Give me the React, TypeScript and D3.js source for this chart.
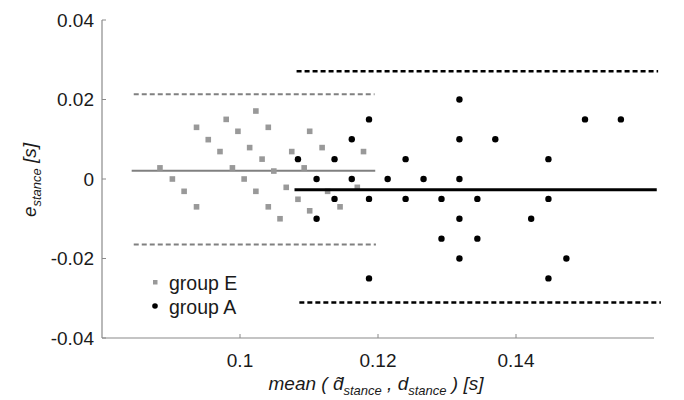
import React from 'react';
import * as d3 from 'd3';

// group E (gray squares)
const groupEX = [0.0884, 0.0902, 0.0919, 0.0937, 0.0937, 0.0954, 0.0971, 0.098, 0.0989, 0.0997, 0.1006, 0.1014, 0.1023, 0.1023, 0.1032, 0.1041, 0.1041, 0.1049, 0.1058, 0.1067, 0.1075, 0.1084, 0.1093, 0.1101, 0.1101, 0.1119, 0.1127, 0.1145, 0.117, 0.1179];
const groupEY = [0.0028, 0, -0.0031, -0.007, 0.013, 0.0099, 0.0069, 0.015, 0.0028, 0.012, 0, 0.0079, 0.0171, -0.0031, 0.005, 0.013, -0.007, 0.002, -0.01, -0.0021, 0.0069, -0.0051, 0.0028, 0.012, -0.008, 0.0079, -0.0031, -0.007, -0.0021, 0.0069];

// group A (black dots)
const groupAX = [0.1084, 0.1111, 0.1111, 0.1137, 0.1137, 0.1162, 0.1162, 0.1187, 0.1187, 0.1187, 0.1214, 0.124, 0.124, 0.1266, 0.1292, 0.1292, 0.1318, 0.1318, 0.1318, 0.1318, 0.1318, 0.1344, 0.1344, 0.137, 0.1422, 0.1447, 0.1447, 0.1447, 0.1473, 0.15, 0.1552];
const groupAY = [0.005, 0, -0.01, 0.005, -0.005, 0.01, 0, 0.015, -0.005, -0.025, 0, 0.005, -0.005, 0, -0.005, -0.015, 0.02, 0.01, 0, -0.01, -0.02, -0.005, -0.015, 0.01, -0.01, 0.005, -0.005, -0.025, -0.02, 0.015, 0.015];

// mean and limits of agreement: [value, xStart, xEnd]
const meanE = [0.0021, 0.0843, 0.1196];
const limitsE = [[0.0213, 0.0846, 0.1195], [-0.0165, 0.0846, 0.1197]];
const meanA = [-0.0027, 0.1079, 0.1604];
const limitsA = [[0.0271, 0.1082, 0.1606], [-0.0311, 0.1086, 0.161]];

const xTicks = [0.1, 0.12, 0.14];
const yTicks = [-0.04, -0.02, 0, 0.02, 0.04];
const xTickLabels = ['0.1', '0.12', '0.14'];
const yTickLabels = ['-0.04', '-0.02', '0', '0.02', '0.04'];

const W = 684;
const H = 400;
const GRAY = '#999999';
const AXIS = '#8a8a8a';
const TEXT = '#1a1a1a';
const FONT = 'Liberation Sans, Arial, sans-serif';

export default function App() {
  const x = d3.scaleLinear().domain([0.08, 0.16]).range([102, 654]);
  const y = d3.scaleLinear().domain([-0.04, 0.04]).range([338, 20]);
  const x0 = x.range()[0];
  const y0 = y.range()[0];

  const hline = (v: number[], stroke: string, width: number, dash?: string, key?: string) => (
    <line key={key} x1={x(v[1])} x2={x(v[2])} y1={y(v[0])} y2={y(v[0])}
      stroke={stroke} strokeWidth={width} strokeDasharray={dash} />
  );

  return (
    <svg width={W} height={H} style={{ position: 'absolute', left: 0, top: 0, background: '#fff' }}
      fontFamily={FONT}>
      {/* axes */}
      <line x1={x0} x2={x0} y1={y(0.04)} y2={y0} stroke={AXIS} strokeWidth={1.2} />
      <line x1={x0} x2={x.range()[1]} y1={y0} y2={y0} stroke={AXIS} strokeWidth={1.2} />
      {yTicks.map((t, i) => (
        <g key={'y' + t}>
          <line x1={x0} x2={x0 + 4} y1={y(t)} y2={y(t)} stroke={AXIS} />
          <text x={x0 - 8} y={y(t)} dy="0.35em" textAnchor="end" fontSize={19} fill={TEXT}>
            {yTickLabels[i]}
          </text>
        </g>
      ))}
      {xTicks.map((t, i) => (
        <g key={'x' + t}>
          <line x1={x(t)} x2={x(t)} y1={y0} y2={y0 - 4} stroke={AXIS} />
          <text x={x(t)} y={367} textAnchor="middle" fontSize={19} fill={TEXT}>
            {xTickLabels[i]}
          </text>
        </g>
      ))}

      {/* group E lines */}
      {hline(meanE, '#808080', 2)}
      {limitsE.map((l, i) => hline(l, '#808080', 2, '5 3', 'le' + i))}

      {/* group E points */}
      {groupEX.map((v, i) => (
        <rect key={'e' + i} x={x(v) - 2.8} y={y(groupEY[i]) - 2.8} width={5.6} height={5.6} fill={GRAY} />
      ))}

      {/* group A lines */}
      {hline(meanA, '#000', 3)}
      {limitsA.map((l, i) => hline(l, '#000', 2.5, '5 3', 'la' + i))}

      {/* group A points */}
      {groupAX.map((v, i) => (
        <circle key={'a' + i} cx={x(v)} cy={y(groupAY[i])} r={3.2} fill="#000" />
      ))}

      {/* legend */}
      <rect x={153} y={280} width={4.5} height={4.5} fill={GRAY} />
      <text x={169} y={290} fontSize={19.5} fill={TEXT}>group E</text>
      <circle cx={155} cy={306} r={2.8} fill="#000" />
      <text x={169} y={314} fontSize={19.5} fill={TEXT}>group A</text>

      {/* axis labels */}
      <text x={376} y={390} textAnchor="middle" fontSize={19} fontStyle="italic" fill={TEXT}>
        <tspan>mean ( d{'\u0303'}</tspan><tspan fontSize={13} dy={5}>stance</tspan>
        <tspan dy={-5}> , d</tspan><tspan fontSize={13} dy={5}>stance</tspan>
        <tspan dy={-5}> ) [s]</tspan>
      </text>
      <text transform="translate(36,180) rotate(-90)" textAnchor="middle" fontSize={19} fontStyle="italic" fill={TEXT}>
        <tspan>e</tspan><tspan fontSize={13} dy={5}>stance</tspan><tspan dy={-5}> [s]</tspan>
      </text>
    </svg>
  );
}
